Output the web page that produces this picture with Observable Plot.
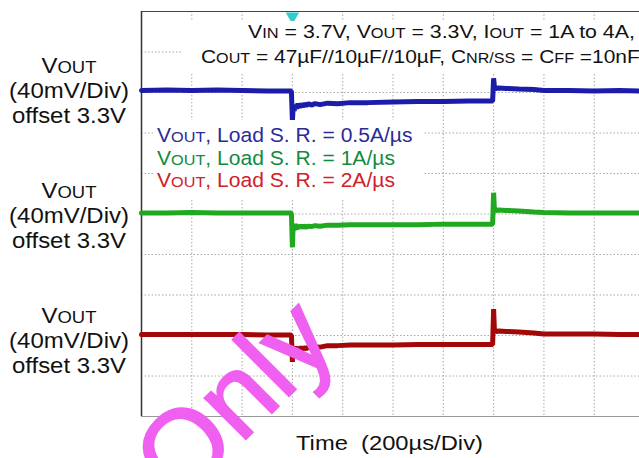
<!DOCTYPE html>
<html><head><meta charset="utf-8">
<script src="https://cdn.jsdelivr.net/npm/d3@7"></script>
<script src="https://cdn.jsdelivr.net/npm/@observablehq/plot@0.6"></script>
<style>
html,body{margin:0;padding:0;background:#fff;}
#chart{width:639px;height:458px;overflow:hidden;}
</style></head><body><div id="chart"></div>
<script>
// ---- data (time in µs, voltage deviation in mV from the 3.3 V offset) ----
const timeUs = [0,100,200,300,400,500,596,
  600,603,607,612,617,622,628,634,640,647,655,664,675,690,710,740,780,830,900,
  1000,1100,1200,1300,1396,
  1400,1403,1410,1420,1450,1500,1560,1600,
  1700,1800,1900,1980];
const blueMv = [2,2.5,2,2.5,2,1.5,1.5,
  -28,-14,-18,-12,-16,-11,-15,-11,-14,-11,-13,-11,-12.5,-11,-12,-10.5,-11,-10,-10,
  -9.5,-9,-9,-8.5,-8.5,
  14,6,4,4.5,4,3.5,3,2,
  2,1.5,2,1.5];
const greenMv = [1,1,1.5,1,1,1,1,
  -33,-10,-16,-10,-15,-11,-14,-11,-14,-11.5,-13,-12,-12.5,-11.5,-12,-11,-11,-10.5,-10.5,
  -10.5,-10.5,-10,-10,-10,
  21,5,3.5,4,3.5,3,2,1.5,
  1,1,1,1];
const redMv = [1,1,1,1,1,0.5,0.5,
  -26,-11,-16,-11,-15,-12,-14,-11.5,-13.5,-12,-13,-11.5,-12.5,-11,-11.5,-10,-10,-9.5,-9.5,
  -9.5,-9,-9,-9,-9,
  26,6,4,4.5,4,3.5,2.5,1.5,
  1.5,1.5,1,1];
const seriesNames = ["0.5A/µs","1A/µs","2A/µs"];
const seriesColors = ["#1c1caa","#20a820","#a30808"];
const channelRefDiv = [8,5,2];         // channel offset positions (divisions)
const mvPerDiv = 40;
const gridTimes = [200,400,600,800,1000,1200,1400,1600,1800];
const gridDivs = [1,2,3,4,5,6,7,8,9];
const triggerTime = [600];

// ---- texts ----
const leftLabel = [[["V",0],["OUT",1]], [["(40mV/Div)",0]], [["offset 3.3V",0]]];
const annot1 = [["V",0],["IN",1],[" = 3.7V, V",0],["OUT",1],[" = 3.3V, I",0],["OUT",1],[" = 1A to 4A,",0]];
const annot2 = [["C",0],["OUT",1],[" = 47µF//10µF//10µF, C",0],["NR/SS",1],[" = C",0],["FF",1],[" =10nF",0]];
const legendLines = seriesNames.map(n => [["V",0],["OUT",1],[", Load S. R. = " + n,0]]);
const legendColors = ["#2b2b98","#128a40","#d0202a"];
const timeLabel = [["Time  (200µs/Div)",0]];
const watermark = "Only";

const FONT = "'Liberation Sans', Arial, Helvetica, sans-serif";

const rows = [];
[blueMv, greenMv, redMv].forEach((arr, i) => arr.forEach((v, j) =>
  rows.push({t: timeUs[j], y: channelRefDiv[i] + v / mvPerDiv, s: seriesNames[i]})));

const grid = {stroke: "#a8a8a8", strokeDasharray: "1.5,2", strokeWidth: 1};

const chart = Plot.plot({
  width: 639, height: 458,
  marginLeft: 141, marginRight: 0, marginTop: 11, marginBottom: 42,
  style: {background: "#fff", overflow: "hidden"},
  x: {domain: [0, 1980], axis: null},
  y: {domain: [0, 10], axis: null},
  color: {domain: seriesNames, range: seriesColors},
  marks: [
    Plot.ruleX(gridTimes, grid),
    Plot.ruleY(gridDivs, grid),
    Plot.ruleY([10], {stroke: "#444", strokeWidth: 1.2}),
    Plot.ruleY([0], {stroke: "#999", strokeWidth: 1.2}),
    Plot.ruleX([0], {stroke: "#333", strokeWidth: 1.5}),
    Plot.line(rows, {x: "t", y: "y", z: "s", stroke: "s", strokeWidth: 5, strokeLinejoin: "miter"}),
    Plot.dot(triggerTime, {x: d => d, y: () => 10, symbol: "triangle", rotate: 180, r: 5, fill: "#33cccc", stroke: "none", dy: 5})
  ]
});
document.getElementById("chart").appendChild(chart);

const svg = d3.select(chart);
// white label boxes of the scope screenshot
svg.append("rect").attr("x", 181).attr("y", 21).attr("width", 460).attr("height", 51).attr("fill", "#fff");
svg.append("rect").attr("x", 155).attr("y", 120).attr("width", 268).attr("height", 80).attr("fill", "#fff");

function addText(parts, size, fill, anchor) {
  const t = svg.append("text").attr("font-family", FONT).attr("font-size", size)
    .attr("fill", fill).attr("text-anchor", anchor).style("white-space", "pre");
  parts.forEach(([s, sub]) => t.append("tspan").attr("font-size", sub ? size * 0.77 : size).text(s));
  return t;
}
function place(t, x, y, sx) { t.attr("transform", `translate(${x},${y}) scale(${sx},1)`); }

// left labels
[[73,98,123],[198,223,248],[323,348,373]].forEach(ys => {
  const ts = leftLabel.map(p => addText(p, 22, "#111", "middle"));
  const sx = 120 / ts[1].node().getBBox().width;
  ts.forEach((t, i) => place(t, 69, ys[i], sx));
});
// annotation
const a1 = addText(annot1, 19, "#111", "start");
place(a1, 248, 38, 387 / a1.node().getBBox().width);
const a2 = addText(annot2, 19, "#111", "start");
place(a2, 201, 63, 439 / a2.node().getBBox().width);
// legend
const lts = legendLines.map((p, i) => addText(p, 19.5, legendColors[i], "start"));
const lsx = 256 / lts[0].node().getBBox().width;
lts.forEach((t, i) => place(t, 157, [142, 164.5, 187][i], lsx));
// time label
const tl = addText(timeLabel, 21, "#111", "start");
place(tl, 296, 450, 187 / tl.node().getBBox().width);
// watermark
svg.append("text").attr("font-family", FONT).attr("font-size", 110).attr("fill", "#f060f0")
  .attr("stroke", "#f060f0").attr("stroke-width", 2)
  .attr("text-anchor", "start")
  .attr("transform", "translate(180,505) rotate(-45)").text(watermark);
</script>
</body></html>
